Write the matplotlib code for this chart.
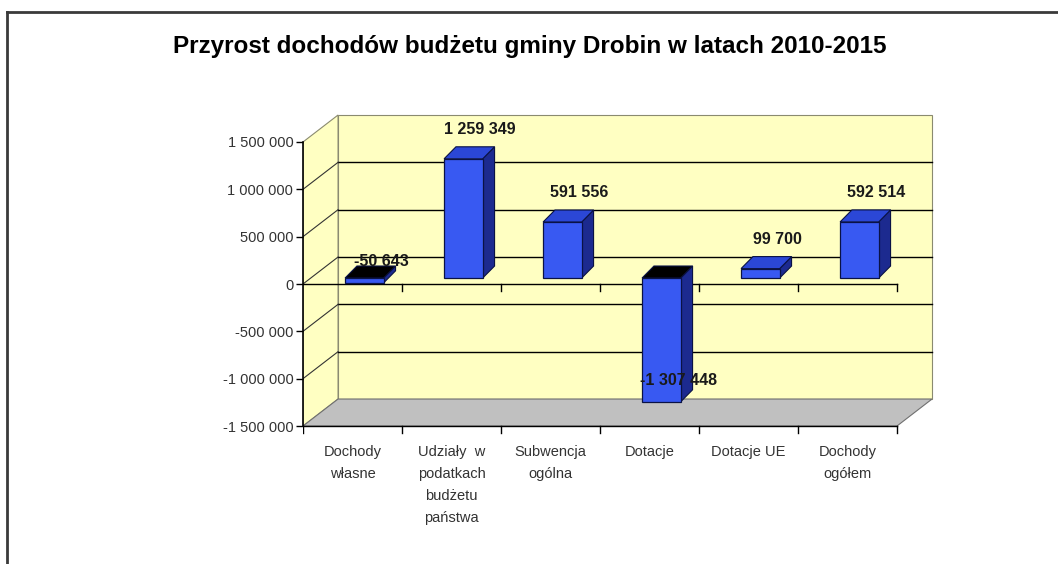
import matplotlib
matplotlib.use('Agg')
import matplotlib.pyplot as plt
from matplotlib.patches import Polygon
from matplotlib.lines import Line2D
from matplotlib.ticker import FuncFormatter

plt.rcParams['font.family'] = ['Liberation Sans', 'DejaVu Sans']

# data
categories = ['Dochody\nwłasne', 'Udziały  w\npodatkach\nbudżetu\npaństwa',
              'Subwencja\nogólna', 'Dotacje', 'Dotacje UE', 'Dochody\nogółem']
values = [-50643, 1259349, 591556, -1307448, 99700, 592514]
y_ticks = [-1500000, -1000000, -500000, 0, 500000, 1000000, 1500000]
title = 'Przyrost dochodów budżetu gminy Drobin w latach 2010-2015'

# pseudo-3D geometry (category units / value units)
DX, DY = 0.354, 285000      # wall depth
BX, BY = 0.12, 63000        # bar front offset
BDX, BDY = 0.12, 127000     # bar depth
BW = 0.39                   # bar width
YMIN, YMAX = y_ticks[0], y_ticks[-1]
N = len(categories)

wall_c = '#FFFFC2'
floor_c = '#C0C0C0'
front_c = '#3859F2'
side_c = '#1C2A8F'
top_c = '#2B47D6'
edge_c = '#0A1245'


def fmt(v):
    return f'{int(v):,}'.replace(',', ' ')


W, H = 1058, 564
fig = plt.figure(figsize=(W / 100, H / 100), dpi=100)
fig.patch.set_facecolor('white')

# axes mapped to pixels: x0=303px, 99px/category; zero at y=284px, 94.67px per 1M
px_cat, px_m = 99.0, 94.67
ax_l, ax_r, ax_t, ax_b = 303, 953, 95, 450
ax = fig.add_axes([ax_l / W, (H - ax_b) / H, (ax_r - ax_l) / W, (ax_b - ax_t) / H])
ax.set_xlim(0, (ax_r - ax_l) / px_cat)
ax.set_ylim(-(ax_b - 284) / px_m * 1e6, (284 - ax_t) / px_m * 1e6)
ax.patch.set_alpha(0)

# walls and floor
ax.add_patch(Polygon([(DX, YMIN + DY), (N + DX, YMIN + DY), (N + DX, YMAX + DY), (DX, YMAX + DY)],
                     closed=True, facecolor=wall_c, edgecolor='#8a8a70', lw=0.8, zorder=1))
ax.add_patch(Polygon([(0, YMIN), (DX, YMIN + DY), (DX, YMAX + DY), (0, YMAX)],
                     closed=True, facecolor=wall_c, edgecolor='#8a8a70', lw=0.8, zorder=1))
ax.add_patch(Polygon([(0, YMIN), (N, YMIN), (N + DX, YMIN + DY), (DX, YMIN + DY)],
                     closed=True, facecolor=floor_c, edgecolor='#707070', lw=0.8, zorder=1))

# gridlines on back and side wall
for v in y_ticks[1:-1]:
    ax.plot([DX, N + DX], [v + DY, v + DY], color='black', lw=1.0, zorder=2)
    ax.plot([0, DX], [v, v + DY], color='#333333', lw=0.8, zorder=2)

# category axis at zero (front) and bottom edge
tick_len = 70000
ax.plot([0, N], [0, 0], color='black', lw=1.0, zorder=3)
ax.plot([0, N], [YMIN, YMIN], color='black', lw=1.0, zorder=3)
for k in range(N + 1):
    if k > 0:
        ax.plot([k, k], [0, -tick_len], color='black', lw=1.0, zorder=3)
    ax.plot([k, k], [YMIN, YMIN - tick_len], color='black', lw=1.0, zorder=3)

# bars
for i, v in enumerate(values):
    xl = i + 0.5 - BW / 2 + BX
    xr = xl + BW
    top = max(v, 0) + BY
    bot = min(v, 0) + BY
    # side
    ax.add_patch(Polygon([(xr, bot), (xr, top), (xr + BDX, top + BDY), (xr + BDX, bot + BDY)],
                         closed=True, facecolor=side_c, edgecolor=edge_c, lw=0.8, zorder=5))
    # top
    ax.add_patch(Polygon([(xl, top), (xr, top), (xr + BDX, top + BDY), (xl + BDX, top + BDY)],
                         closed=True, facecolor=top_c if v > 0 else 'black',
                         edgecolor=edge_c, lw=0.8, zorder=5))
    # front
    ax.add_patch(Polygon([(xl, bot), (xr, bot), (xr, top), (xl, top)],
                         closed=True, facecolor=front_c, edgecolor=edge_c, lw=0.9, zorder=6))
    # data label
    ly = v + BY + (310000 if v > 0 else 230000)
    ax.text(i + 0.5 + 0.29, ly, fmt(v), ha='center', va='center',
            fontsize=11.5, fontweight='bold', color='#1a1a1a', zorder=8)

# value axis
ax.set_yticks(y_ticks)
ax.yaxis.set_major_formatter(FuncFormatter(lambda v, p: fmt(v)))
ax.tick_params(axis='y', direction='out', length=5, width=1, colors='black',
               labelcolor='#333333', labelsize=10.5, pad=2)
ax.set_xticks([])
for s in ['top', 'right', 'bottom']:
    ax.spines[s].set_visible(False)
ax.spines['left'].set_bounds(YMIN, YMAX)
ax.spines['left'].set_linewidth(1.2)
ax.spines['left'].set_zorder(4)

# category labels
for i, c in enumerate(categories):
    ax.text(i + 0.5, YMIN - 205000, c, ha='center', va='top', fontsize=10.5,
            color='#333333', linespacing=1.72)

# title
fig.text(530 / W, 1 - 46 / H, title, ha='center', va='center',
         fontsize=17.5, fontweight='bold', color='black')

# outer frame (top and left)
fig.add_artist(Line2D([7 / W, 1], [1 - 12 / H, 1 - 12 / H], transform=fig.transFigure,
                      color='#3a3a3a', lw=2))
fig.add_artist(Line2D([7 / W, 7 / W], [0, 1 - 12 / H], transform=fig.transFigure,
                      color='#3a3a3a', lw=2))

fig.savefig('out.png', dpi=100)
